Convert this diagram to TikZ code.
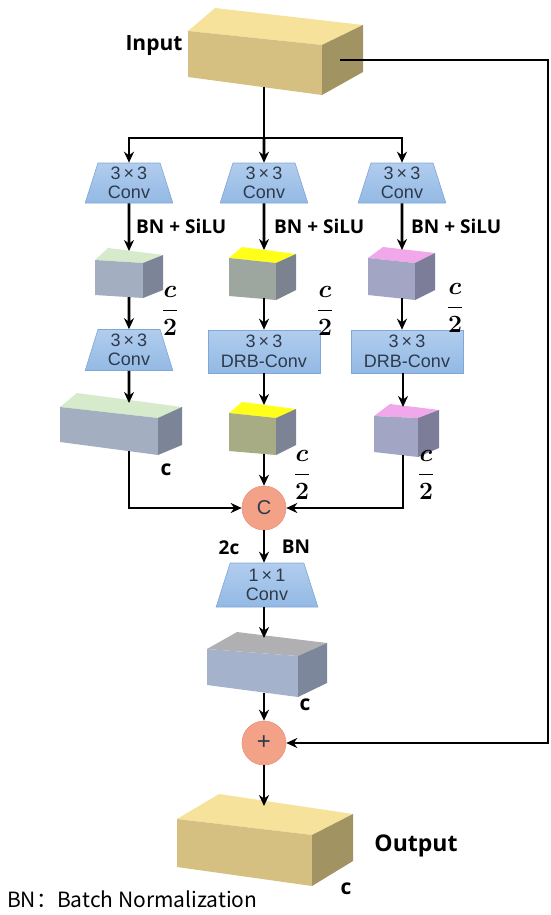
\documentclass[tikz,border=0pt]{standalone}
\usepackage{amsmath,bm}
\usepackage{fontspec}
\usetikzlibrary{arrows.meta,shapes.geometric,calc}
\newfontfamily\lblfont{Open Sans}
\newfontfamily\arialfont{Liberation Sans}
\newfontfamily\cjkfont{Noto Sans CJK SC}
\definecolor{trapA}{HTML}{B1CDEE}
\definecolor{trapB}{HTML}{93B9E4}
\definecolor{trapD}{HTML}{80A7D6}
\definecolor{boxtxt}{HTML}{2E3A4C}
\definecolor{salmon}{HTML}{F3A288}
\definecolor{salmonD}{HTML}{E8927A}
\newcommand\cub[8]{%
  \fill[#1top] #6 -- #7 -- #3 -- #2 -- cycle;
  \fill[#1front] #2 -- #3 -- #4 -- #5 -- cycle;
  \fill[#1side] #3 -- #7 -- #8 -- #4 -- cycle;
}
\newcommand\tms{\,×\,}
\begin{document}
\begin{tikzpicture}[x=1pt,y=-1pt,
  ln/.style={line width=2.6pt},
  arr/.style={line width=2.6pt,-{Stealth[length=11pt,width=10pt]}},
  trapbox/.style={trapezium, trapezium left angle=75, trapezium right angle=75,
    trapezium stretches=true, minimum width=88pt, minimum height=40pt,
    top color=trapA, bottom color=trapB, draw=trapD, line width=0.6pt,
    align=center, inner sep=0pt, text=boxtxt,
    font=\arialfont\fontsize{18}{19.5}\selectfont},
  rectbox/.style={rectangle, minimum width=112pt, minimum height=43pt,
    top color=trapA, bottom color=trapB, draw=trapD, line width=0.6pt,
    align=center, inner sep=0pt, text=boxtxt,
    font=\arialfont\fontsize{18}{19.5}\selectfont},
  opcirc/.style={circle, minimum size=44pt, inner sep=0pt, fill=salmon, draw=salmonD,
    line width=0.6pt, text=boxtxt, font=\arialfont\fontsize{20}{22}\selectfont},
  lb/.style={font=\lblfont\bfseries\fontsize{19}{21}\selectfont, inner sep=0pt},
  frac/.style={font=\fontsize{25}{29}\selectfont, inner sep=0pt},
  yeltop/.style={fill={rgb,255:red,246;green,226;blue,155}},
  yelfront/.style={fill={rgb,255:red,213;green,192;blue,130}},
  yelside/.style={fill={rgb,255:red,161;green,147;blue,98}},
  grntop/.style={fill={rgb,255:red,213;green,235;blue,203}},
  grnfront/.style={fill={rgb,255:red,163;green,175;blue,192}},
  grnside/.style={fill={rgb,255:red,124;green,133;blue,152}},
  ylwtop/.style={fill={rgb,255:red,255;green,255;blue,26}},
  ylwfront/.style={fill={rgb,255:red,158;green,166;blue,160}},
  ylwside/.style={fill={rgb,255:red,124;green,131;blue,144}},
  olvtop/.style={fill={rgb,255:red,255;green,255;blue,26}},
  olvfront/.style={fill={rgb,255:red,168;green,172;blue,132}},
  olvside/.style={fill={rgb,255:red,124;green,131;blue,148}},
  pnktop/.style={fill={rgb,255:red,241;green,168;blue,235}},
  pnkfront/.style={fill={rgb,255:red,163;green,165;blue,196}},
  pnkside/.style={fill={rgb,255:red,124;green,126;blue,153}},
  grytop/.style={fill={rgb,255:red,176;green,176;blue,178}},
  gryfront/.style={fill={rgb,255:red,165;green,178;blue,203}},
  gryside/.style={fill={rgb,255:red,125;green,135;blue,156}},
]
\useasboundingbox (0,0) rectangle (550,915);

% ---- cuboids ----
\cub{yel}{(188,31)}{(322,45)}{(322,95)}{(188,77)}{(215,8)}{(363,25)}{(363,72)}
\cub{grn}{(95,260)}{(143,263)}{(143,298)}{(95,295)}{(108,248)}{(163,255)}{(163,290)}
\cub{ylw}{(229,258)}{(276,263)}{(276,300)}{(229,296)}{(242,247)}{(296,254)}{(296,290)}
\cub{pnk}{(368,258)}{(415,263)}{(415,300)}{(368,295)}{(383,247)}{(435,253)}{(435,290)}
\cub{grn}{(60,407)}{(158,418)}{(158,455)}{(60,442)}{(77,393)}{(182,407)}{(182,445)}
\cub{olv}{(229,413)}{(276,418)}{(276,455)}{(229,451)}{(242,402)}{(296,409)}{(296,445)}
\cub{pnk}{(374,416)}{(418,418)}{(418,457)}{(374,452)}{(390,404)}{(439,410)}{(439,448)}
\cub{gry}{(207,649)}{(298,656)}{(298,697)}{(207,685)}{(237,632)}{(327,643)}{(327,683)}
\cub{yel}{(177,819)}{(312,835)}{(312,886)}{(177,867)}{(219,794)}{(353,814)}{(353,861)}

% ---- attachment points on cuboids ----
\coordinate (inb) at (264,87);
\coordinate (inr) at (340,60);
\coordinate (split) at (264,138);
\coordinate (skipc) at (548,60);
\coordinate (k1t) at (129,251);
\coordinate (k1b) at (129,297);
\coordinate (k2t) at (264,250);
\coordinate (k2b) at (264,298);
\coordinate (k3t) at (402,250);
\coordinate (k3b) at (402,298);
\coordinate (k4t) at (129,403);
\coordinate (k4b) at (129,451);
\coordinate (k5t) at (264,405);
\coordinate (k5b) at (264,454);
\coordinate (k6t) at (403,407);
\coordinate (k6b) at (403,455);
\coordinate (k7t) at (264,638);
\coordinate (k7b) at (264,693);
\coordinate (outt) at (264,806);

% ---- blocks ----
\node[trapbox] (t1) at (129,183) {3\tms3\\Conv};
\node[trapbox] (t2) at (264,183) {3\tms3\\Conv};
\node[trapbox] (t3) at (402,183) {3\tms3\\Conv};
\node[trapbox, minimum height=41pt] (t4) at (129,350) {3\tms3\\Conv};
\node[rectbox] (d2) at (264,351.5) {3\tms3\\DRB-Conv};
\node[rectbox] (d3) at (407,351.5) {3\tms3\\DRB-Conv};
\node[opcirc] (cc) at (264,508) {C};
\node[trapbox, minimum width=102pt, minimum height=44pt,
  trapezium left angle=76, trapezium right angle=76] (t5) at (267,585) {1\tms1\\Conv};
\node[opcirc, font=\arialfont\fontsize{24}{26}\selectfont] (pl) at (264,743) {+};

% ---- connectors ----
\draw[ln] (inb) -- (split);
\draw[arr] (split) -| (t1.north);
\draw[arr] (split) -- (t2.north);
\draw[arr] (split) -| (t3.north);
\draw[arr] (t1.south) -- (k1t);
\draw[arr] (t2.south) -- (k2t);
\draw[arr] (t3.south) -- (k3t);
\draw[arr] (k1b) -- (t4.north);
\draw[arr] (k2b) -- (k2b |- d2.north);
\draw[arr] (k3b) -- (k3b |- d3.north);
\draw[arr] (t4.south) -- (k4t);
\draw[arr] (d2.south -| k5t) -- (k5t);
\draw[arr] (d3.south -| k6t) -- (k6t);
\draw[arr] (k4b) |- (cc.west);
\draw[arr] (k5b) -- (cc.north);
\draw[arr] (k6b) |- (cc.east);
\draw[arr] (cc.south) -- (cc.south |- t5.north);
\draw[arr] (t5.south -| k7t) -- (k7t);
\draw[arr] (k7b) -- (pl.north);
\draw[arr] (pl.south) -- (outt);
\draw[arr] (inr) -- (skipc) |- (pl.east);

% ---- labels ----
\node[lb, font=\lblfont\bfseries\fontsize{21}{23}\selectfont] (linput) at (154,46) {Input};
\node[lb, anchor=west] (bs1) at (136,226) {BN + SiLU};
\node[lb, anchor=west] (bs2) at (274,226) {BN + SiLU};
\node[lb, anchor=west] (bs3) at (411,226) {BN + SiLU};
\node[frac] (f1) at (170,311) {$\bm{\dfrac{c}{2}}$};
\node[frac] (f2) at (325,311) {$\bm{\dfrac{c}{2}}$};
\node[frac] (f3) at (455,308) {$\bm{\dfrac{c}{2}}$};
\node[frac] (f4) at (302,475) {$\bm{\dfrac{c}{2}}$};
\node[frac] (f5) at (426,475) {$\bm{\dfrac{c}{2}}$};
\node[lb, font=\lblfont\bfseries\fontsize{21}{23}\selectfont] (c1) at (166,470) {c};
\node[lb] (l2c) at (229,548) {2c};
\node[lb] (lbn) at (296,547) {BN};
\node[lb, font=\lblfont\bfseries\fontsize{21}{23}\selectfont] (c2) at (305,705) {c};
\node[lb, font=\lblfont\bfseries\fontsize{23}{25}\selectfont] (loutput) at (416,846) {Output};
\node[lb, font=\lblfont\bfseries\fontsize{21}{23}\selectfont] (c3) at (346,889) {c};
\node[anchor=west, inner sep=0pt, font=\cjkfont\fontsize{21}{23}\selectfont] (legend) at (7,899) {BN：Batch Normalization};
\end{tikzpicture}
\end{document}
